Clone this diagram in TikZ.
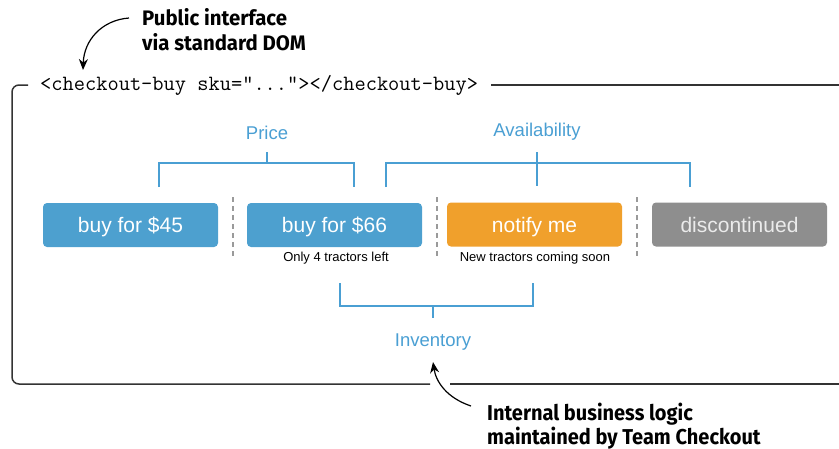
\documentclass[tikz,border=0pt]{standalone}
\usepackage{fontspec}
\setmainfont{Liberation Sans}
\newfontfamily\calloutfontA{Fira Sans}[UprightFont=* Bold, FakeStretch=0.97]
\newfontfamily\calloutfontB{Fira Sans}[UprightFont=* Bold, FakeStretch=0.93]
\usetikzlibrary{arrows.meta}
\definecolor{btnblue}{HTML}{4DA0CF}
\definecolor{btnorange}{HTML}{F0A02C}
\definecolor{btngray}{HTML}{8E8E8E}
\definecolor{lblblue}{HTML}{4A9FD3}
\definecolor{framegray}{HTML}{333333}
\definecolor{sepgray}{HTML}{9A9A9A}
\tikzset{
  btn/.style={rounded corners=4pt, minimum width=175pt, minimum height=44pt, inner sep=0pt, text height=19pt, text depth=4pt, font=\fontsize{21}{24}\selectfont, text=white},
  grp/.style={text=lblblue, font=\fontsize{18.5}{22}\selectfont},
  brk/.style={draw=lblblue, line width=1.2pt},
  sep/.style={draw=sepgray, line width=1.2pt, dash pattern=on 5pt off 4pt},
  sub/.style={font=\fontsize{13}{15}\selectfont, text=black},
  callout/.style={align=left, anchor=base west, inner sep=0pt},
  pointer/.style={draw=black, line width=1.2pt, -{Stealth[length=11pt,width=9pt]}},
  frame/.style={draw=framegray, line width=1.5pt}
}
\begin{document}
\begin{tikzpicture}[x=1pt,y=-1pt]
\useasboundingbox (0,0) rectangle (839,448);
% frame
\coordinate (ftl) at (28,85);
\coordinate (ftr) at (491,85);
\coordinate (fte) at (839,85);
\coordinate (fbl) at (430,384);
\coordinate (fbr) at (450,384);
\coordinate (fbe) at (839,384);
\draw[frame, rounded corners=7pt] (ftl) -- (12,85) -- (12,384) -- (fbl);
\draw[frame] (ftr) -- (fte);
\draw[frame] (fbr) -- (fbe);
\node[anchor=base west, inner sep=0pt, font=\ttfamily\fontsize{21.8}{24}\selectfont] (code) at (40,90.5) {<checkout-buy sku="..."></checkout-buy>};
% callouts
\node[callout, font=\calloutfontA\fontsize{21}{25}\selectfont] (pub) at (142,50) {Public interface\\via standard DOM};
\node[callout, font=\calloutfontB\fontsize{21.5}{22}\selectfont] (intl) at (487,444) {Internal business logic\\maintained by Team Checkout};
\coordinate (pubtail) at (129,18);
\coordinate (pubtip) at (83,70);
\draw[pointer] (pubtail) .. controls (102,20) and (84,40) .. (pubtip);
\coordinate (intail) at (471,406);
\coordinate (intip) at (433,362);
\draw[pointer] (intail) .. controls (447,398) and (436,382) .. (intip);
% buttons
\node[btn, fill=btnblue] (b1) at (130.5,225) {buy for \$45};
\node[btn, fill=btnblue] (b2) at (334.5,225) {buy for \$66};
\node[btn, fill=btnorange] (b3) at (534.5,224.5) {notify me};
\node[btn, fill=btngray, text=white!92!black] (b4) at (739.5,224.5) {discontinued};
\node[sub] (s2) at (336,258) {Only 4 tractors left};
\node[sub] (s3) at (535,258) {New tractors coming soon};
% separators
\draw[sep] (233,197) -- (233,256);
\draw[sep] (437,197) -- (437,256);
\draw[sep] (637,197) -- (637,256);
% group labels
\node[grp] (price) at (267,133) {Price};
\node[grp] (avail) at (537,132) {Availability};
\node[grp] (inv) at (433,342) {Inventory};
% price bracket
\draw[brk] (price.south |- 0,152) -- (price.south |- 0,163);
\draw[brk] (159,187) -- (159,163) -- (354,163) -- (354,187);
% availability bracket
\draw[brk] (avail.south |- 0,152) -- (avail.south |- 0,186);
\draw[brk] (386,187) -- (386,163) -- (690,163) -- (690,187);
% inventory bracket
\draw[brk] (340,283) -- (340,306) -- (533,306) -- (533,283);
\draw[brk] (inv.north |- 0,306) -- (inv.north |- 0,318);
\end{tikzpicture}
\end{document}
